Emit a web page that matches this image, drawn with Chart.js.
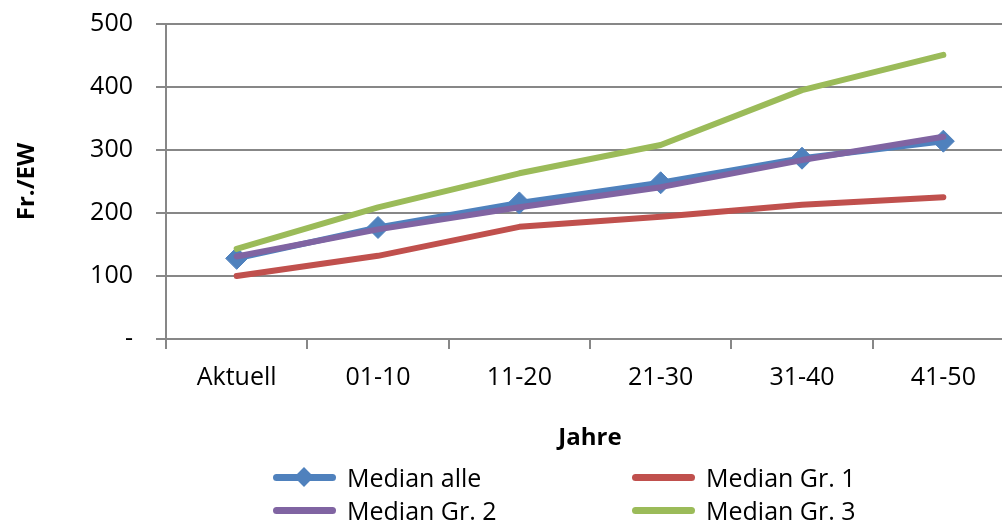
<!DOCTYPE html>
<html>
<head>
<meta charset="utf-8">
<script src="https://cdn.jsdelivr.net/npm/chart.js@4.4.0/dist/chart.umd.min.js"></script>
<style>
  html, body { margin: 0; padding: 0; background: #fff; overflow: hidden; }
  #wrap { position: relative; width: 1002px; height: 522px; overflow: hidden; }
  #chart { position: absolute; left: 0; top: 0; }
  .leg { position: absolute; display: flex; align-items: center; height: 30px;
         font-family: 'Open Sans', sans-serif; font-size: 25px; color: #000; white-space: nowrap; }
  .leg .sw { position: relative; width: 63px; height: 7px; border-radius: 4px; margin-right: 11px; }
  .leg .dm { position: absolute; left: 24px; top: -4px; width: 14px; height: 14px; transform: rotate(45deg); }
</style>
</head>
<body>
<div id="wrap">
  <canvas id="chart" width="1026" height="522"></canvas>
  <div id="legend"></div>
</div>
<script>
const labels = ['Aktuell', '01-10', '11-20', '21-30', '31-40', '41-50'];
const medianAlle = [128, 177, 216, 248, 287, 314];
const medianGr1 = [100, 132, 178, 194, 213, 225];
const medianGr2 = [131, 174, 209, 241, 284, 321];
const medianGr3 = [143, 209, 263, 308, 395, 451];
const yTicks = [0, 100, 200, 300, 400, 500];

const seriesNames = ['Median alle', 'Median Gr. 1', 'Median Gr. 2', 'Median Gr. 3'];
const seriesColors = ['#4F81BD', '#C0504D', '#8064A2', '#9BBB59'];
const seriesData = [medianAlle, medianGr1, medianGr2, medianGr3];

Chart.defaults.font.family = "'Open Sans', sans-serif";
Chart.defaults.color = '#000';

const GRID = '#878787';

const datasets = seriesData.map((d, i) => ({
  label: seriesNames[i],
  data: d,
  borderColor: seriesColors[i],
  backgroundColor: seriesColors[i],
  borderWidth: 6,
  borderCapStyle: 'round',
  borderJoinStyle: 'round',
  pointStyle: 'rectRot',
  pointRadius: i === 0 ? 11 : 0,
  pointHoverRadius: i === 0 ? 11 : 0,
  pointBorderWidth: 1,
  tension: 0,
  order: i === 0 ? 2 : 1,
}));

new Chart(document.getElementById('chart').getContext('2d'), {
  type: 'line',
  data: { labels, datasets },
  options: {
    responsive: false,
    animation: false,
    layout: { padding: { left: 0, right: 4, top: 24, bottom: 69 } },
    plugins: { legend: { display: false }, tooltip: { enabled: false } },
    scales: {
      x: {
        offset: true,
        grid: { offset: true, drawOnChartArea: false, drawTicks: true, tickLength: 10, color: GRID, lineWidth: 2 },
        border: { color: GRID, width: 2 },
        ticks: { font: { size: 25 }, padding: 14, maxRotation: 0 },
        title: { display: true, text: 'Jahre', font: { size: 24, weight: 'bold' }, padding: { top: 0, bottom: 0 } },
        afterFit(scale) { scale.height = 114; },
      },
      y: {
        min: 0,
        max: 500,
        afterBuildTicks(scale) { scale.ticks = yTicks.map(v => ({ value: v })); },
        grid: { color: GRID, lineWidth: 2, drawTicks: true, tickLength: 10 },
        border: { color: GRID, width: 2 },
        ticks: { font: { size: 25 }, padding: 23, callback: v => (v === 0 ? '-' : v) },
        title: { display: true, text: 'Fr./EW', font: { size: 24, weight: 'bold' }, padding: { top: 13, bottom: 0 } },
        afterFit(scale) {
          scale.width = 166;
          // tick padding would otherwise push the plot area down
          scale.paddingTop = 15;
          scale.paddingBottom = 15;
        },
      },
    },
  },
});

// legend in two fixed columns, as in the reference
const legPos = [[273, 462], [632, 462], [273, 495], [632, 495]];
const legend = document.getElementById('legend');
seriesNames.forEach((name, i) => {
  const item = document.createElement('div');
  item.className = 'leg';
  item.style.left = legPos[i][0] + 'px';
  item.style.top = legPos[i][1] + 'px';
  const sw = document.createElement('span');
  sw.className = 'sw';
  sw.style.background = seriesColors[i];
  if (i === 0) {
    const dm = document.createElement('span');
    dm.className = 'dm';
    dm.style.background = seriesColors[i];
    sw.appendChild(dm);
  }
  item.appendChild(sw);
  item.appendChild(document.createTextNode(name));
  legend.appendChild(item);
});
</script>
</body>
</html>
